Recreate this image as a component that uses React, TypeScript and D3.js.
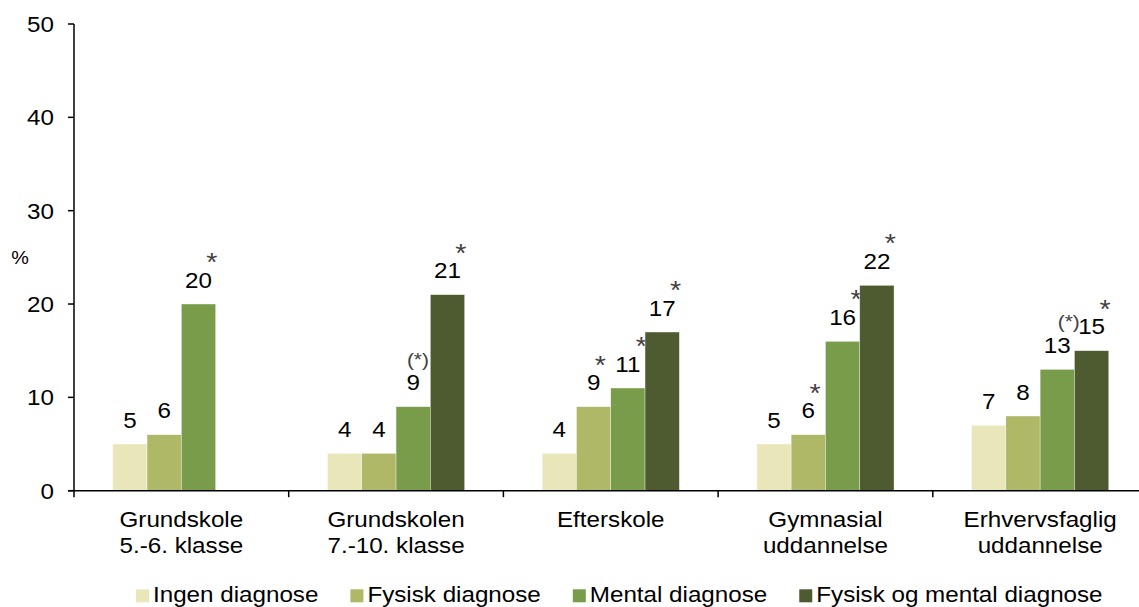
import React, { useEffect, useRef } from "react";
import * as d3 from "d3";

const categories = ["Grundskole|5.-6. klasse", "Grundskolen|7.-10. klasse", "Efterskole", "Gymnasial|uddannelse", "Erhvervsfaglig|uddannelse"];
const seriesNames = ["Ingen diagnose", "Fysisk diagnose", "Mental diagnose", "Fysisk og mental diagnose"];
const seriesColors = ["#E9E7B9", "#AFB866", "#789C4A", "#4E5B31"];
const ingenValues = [5, 4, 4, 5, 7];
const fysiskValues = [6, 4, 9, 6, 8];
const mentalValues = [20, 9, 11, 16, 13];
const beggeValues: (number | null)[] = [null, 21, 17, 22, 15];
const ingenMarks = ["", "", "", "", ""];
const fysiskMarks = ["", "", "*", "*", ""];
const mentalMarks = ["*", "(*)", "*", "*", "(*)"];
const beggeMarks = ["", "*", "*", "*", "*"];
const yTicks = [0, 10, 20, 30, 40, 50];

const W = 1139, H = 607;
const FONT = "'Liberation Sans', Arial, Helvetica, sans-serif";
const SX = 1.1;

export default function App() {
  const ref = useRef<SVGSVGElement>(null);
  useEffect(() => {
    const svg = d3.select(ref.current);
    svg.selectAll("*").remove();
    const values = [ingenValues, fysiskValues, mentalValues, beggeValues];
    const marks = [ingenMarks, fysiskMarks, mentalMarks, beggeMarks];

    const y = d3.scaleLinear().domain([0, 50]).range([490.7, 24]);
    const x0 = d3.scaleBand<string>().domain(categories).range([74, 1147.5]).padding(0);
    const x1 = d3.scaleBand<string>().domain(seriesNames).range([0, x0.bandwidth()]).paddingInner(0).paddingOuter(1.13);

    const txt = (g: any, x: number, yy: number, s: string, size: number, anchor: string, fill = "#000") =>
      g.append("text")
        .attr("transform", `translate(${x},${yy}) scale(${SX},1)`)
        .attr("font-family", FONT).attr("font-size", size)
        .attr("text-anchor", anchor).attr("fill", fill).text(s);

    // bars
    const gb = svg.append("g");
    categories.forEach((c, ci) => {
      seriesNames.forEach((s, si) => {
        const v = values[si][ci];
        if (v == null) return;
        const bx = (x0(c) as number) + (x1(s) as number);
        const bw = x1.bandwidth();
        gb.append("rect").attr("x", bx).attr("y", y(v)).attr("width", bw).attr("height", y(0) - y(v))
          .attr("fill", seriesColors[si]).attr("stroke", "#ffffff").attr("stroke-width", 0.6).attr("stroke-opacity", 0.6);
        const cx = bx + bw / 2;
        const top = y(v);
        txt(gb, cx, top - 16.5, String(v), 22, "middle");
        const m = marks[si][ci];
        const half = String(v).length * 6.7;
        if (m === "*") {
          txt(gb, cx + half, top - 33, "*", 26, "middle", "#404040");
        } else if (m === "(*)") {
          txt(gb, cx + half - 2, top - 41, "(*)", 19, "middle", "#404040");
        }
      });
    });

    // axes
    const ga = svg.append("g").attr("stroke", "#000").attr("stroke-width", 1.5);
    ga.append("line").attr("x1", 74).attr("x2", 74).attr("y1", y(50)).attr("y2", y(0));
    yTicks.forEach(t => {
      ga.append("line").attr("x1", 68).attr("x2", 74).attr("y1", y(t)).attr("y2", y(t));
    });
    ga.append("line").attr("x1", 68).attr("x2", 1150).attr("y1", y(0)).attr("y2", y(0));
    categories.forEach(c => {
      const xx = x0(c) as number;
      ga.append("line").attr("x1", xx).attr("x2", xx).attr("y1", y(0)).attr("y2", y(0) + 6.5);
    });

    const gt = svg.append("g");
    yTicks.forEach(t => txt(gt, 54, y(t) + 8, String(t), 22, "end"));
    txt(gt, 20, 264, "%", 18, "middle");

    categories.forEach(c => {
      const cx = (x0(c) as number) + x0.bandwidth() / 2;
      c.split("|").forEach((line, li) => txt(gt, cx, 527 + li * 26, line, 22, "middle"));
    });

    // legend
    const gl = svg.append("g");
    let lx = 136;
    seriesNames.forEach((s, si) => {
      gl.append("rect").attr("x", lx).attr("y", 589.3).attr("width", 13).attr("height", 13).attr("fill", seriesColors[si]);
      const t = txt(gl, lx + 17, 601.7, s, 22, "start");
      const w = (t.node() as SVGTextElement).getComputedTextLength() * SX;
      lx = lx + 17 + w + 32;
    });
  }, []);
  return (
    <svg ref={ref} width={W} height={H} style={{ position: "absolute", left: 0, top: 0, background: "#fff" }} />
  );
}
